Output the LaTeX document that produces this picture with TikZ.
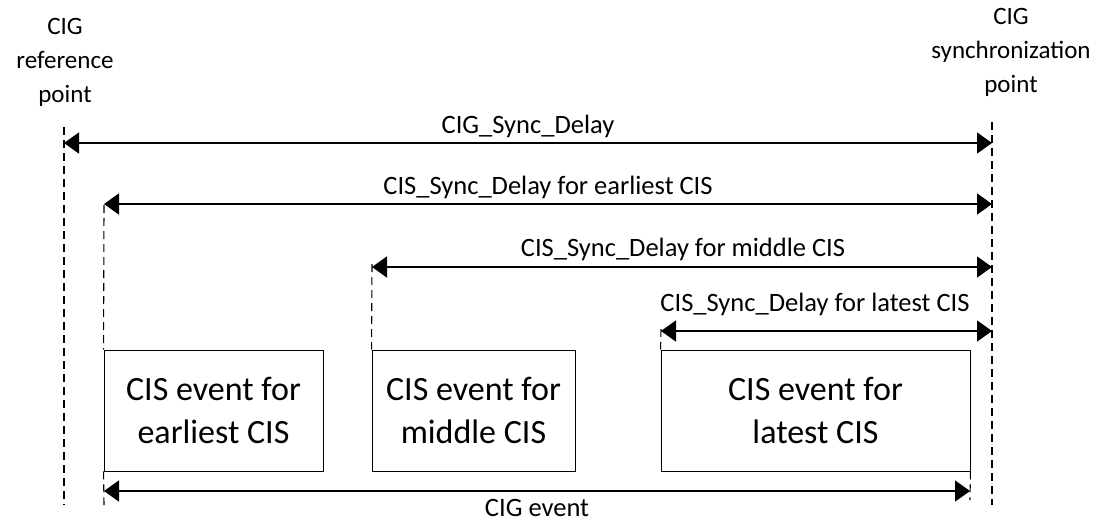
\documentclass[tikz,border=0pt]{standalone}
\usepackage{fontspec}
\setmainfont{Carlito}
\usetikzlibrary{arrows.meta}

\begin{document}
\begin{tikzpicture}[
  x=1pt, y=-1pt,
  marker/.style={line width=1.1pt, dash pattern=on 8pt off 5pt, black},
  delay/.style={line width=1.8pt, {Triangle[length=15pt,width=21pt]}-{Triangle[length=15pt,width=21pt]}},
  event/.style={draw, line width=0.9pt, minimum height=121pt, inner sep=0pt, align=center,
                font=\fontsize{34}{43}\selectfont},
  toplabel/.style={align=center, font=\fontsize{25}{34}\selectfont},
  dlabel/.style={anchor=base, font=\fontsize{26.5}{30}\selectfont},
]
\useasboundingbox (0,0) rectangle (1093,523);

\node[toplabel] (ref) at (65,62) {CIG\\reference\\point};
\node[toplabel] (sync) at (1011,52) {CIG\\synchronization\\point};

\coordinate (refTop) at (64,127);
\coordinate (refBot) at (64,505);
\coordinate (syncTop) at (992,122);
\coordinate (syncBot) at (992,505);

\draw[marker] (refTop) -- (refBot);
\draw[marker] (syncTop) -- (syncBot);

\node[event, minimum width=219pt] (early) at (213.5,410.5) {CIS event for\\earliest CIS};
\node[event, minimum width=203pt] (middle) at (473.5,410.5) {CIS event for\\middle CIS};
\node[event, minimum width=309pt] (late) at (815.5,410.5) {CIS event for\\latest CIS};

\coordinate (earlyTop) at (104,205);
\coordinate (middleTop) at (372,264);
\coordinate (lateTop) at (661,329);
\draw[marker] (earlyTop) -- (early.north west);
\draw[marker] (early.south west) -- (104,505);
\draw[marker] (middleTop) -- (middle.north west);
\draw[marker] (lateTop) -- (late.north west);
\draw[marker] (late.south east) -- (970,500);

% delays
\coordinate (cigL) at (64,143);
\coordinate (cigR) at (992,143);
\draw[delay] (cigL) -- (cigR);
\node[dlabel] (cigLbl) at (528,133) {CIG\_Sync\_Delay};

\coordinate (earlyL) at (104,204);
\coordinate (earlyR) at (992,204);
\draw[delay] (earlyL) -- (earlyR);
\node[dlabel] (earlyLbl) at (548,194) {CIS\_Sync\_Delay for earliest CIS};

\coordinate (middleL) at (372,267);
\coordinate (middleR) at (992,267);
\draw[delay] (middleL) -- (middleR);
\node[dlabel] (middleLbl) at (683,256) {CIS\_Sync\_Delay for middle CIS};

\coordinate (lateL) at (661,331);
\coordinate (lateR) at (992,331);
\draw[delay] (lateL) -- (lateR);
\node[dlabel] (lateLbl) at (815,311) {CIS\_Sync\_Delay for latest CIS};

\coordinate (eventL) at (104,491);
\coordinate (eventR) at (970,491);
\draw[delay] (eventL) -- (eventR);
\node[dlabel] (eventLbl) at (537,516) {CIG event};

\end{tikzpicture}
\end{document}
